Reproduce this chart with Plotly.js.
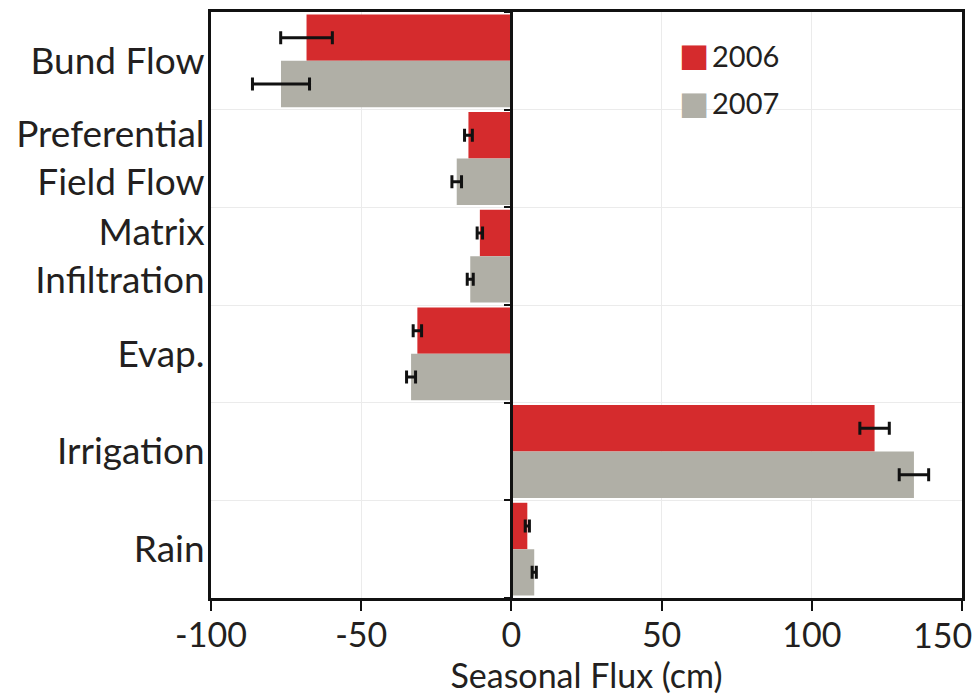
<!DOCTYPE html>
<html>
<head>
<meta charset="utf-8">
<script src="https://cdn.plot.ly/plotly-3.0.1.min.js"></script>
<style>html,body{margin:0;padding:0;background:#fff;}#chart{width:976px;height:696px;}</style>
</head>
<body>
<div id="chart"></div>
<script>
var categories = ["Bund Flow", "Preferential<br>Field Flow", "Matrix<br>Infiltration", "Evap.", "Irrigation", "Rain"];
var flux2006 = [-68.2, -14.3, -10.5, -31.3, 120.9, 5.3];
var err2006 = [8.6, 1.3, 0.9, 1.4, 4.9, 0.7];
var flux2007 = [-76.7, -18.2, -13.7, -33.4, 134.0, 7.6];
var err2007 = [9.5, 1.6, 1.0, 1.5, 4.9, 0.7];
var seriesNames = ["2006", "2007"];
var xTicks = [-100, -50, 0, 50, 100, 150];
var xTickText = ["-100", "-50", "0", "50", "100", ""];
var lastTickLabel = "150";
var boundaryTicks = [-0.5, 0.5, 1.5, 2.5, 3.5, 4.5, 5.5];

var red = "#d52b2d", gray = "#b0afa6";
var FONT = "Lato, 'Open Sans', sans-serif";

var traces = [
  {type: "bar", orientation: "h", name: seriesNames[0], y: categories, x: flux2006,
   marker: {color: red},
   error_x: {type: "data", array: err2006, visible: true, color: "#111", thickness: 3, width: 6.5}},
  {type: "bar", orientation: "h", name: seriesNames[1], y: categories, x: flux2007,
   marker: {color: gray},
   error_x: {type: "data", array: err2007, visible: true, color: "#111", thickness: 3, width: 6.5}},
  {type: "scatter", mode: "markers", x: [null], y: [null], yaxis: "y2", showlegend: false, hoverinfo: "skip"}
];

var layout = {
  width: 976, height: 696,
  margin: {l: 211, r: 14, t: 12, b: 98},
  paper_bgcolor: "#fff", plot_bgcolor: "#fff",
  font: {family: FONT, color: "#231f20", size: 34},
  barmode: "group", bargap: 0.05, bargroupgap: 0,
  showlegend: false,
  xaxis: {
    range: [-100, 150], tickvals: xTicks, ticktext: xTickText,
    showline: true, mirror: true, linecolor: "#111", linewidth: 3,
    ticks: "outside", ticklen: 10, tickwidth: 2, tickcolor: "#111",
    showgrid: true, gridcolor: "#ebebeb", gridwidth: 1,
    zeroline: false, ticklabeloverflow: "allow", ticklabelstandoff: -5,
    tickfont: {size: 34, family: FONT, color: "#231f20"},
    title: {text: "Seasonal Flux (cm)", font: {size: 34, family: FONT, color: "#231f20"}, standoff: 8},
    fixedrange: true
  },
  yaxis: {
    autorange: "reversed", type: "category",
    showline: true, mirror: true, linecolor: "#111", linewidth: 3,
    ticks: "", tickson: "boundaries",
    showgrid: true, gridcolor: "#ebebeb", gridwidth: 1,
    tickfont: {size: 37, family: FONT, color: "#231f20"},
    ticklabelstandoff: -4,
    fixedrange: true
  },
  yaxis2: {
    overlaying: "y", anchor: "free", position: 0.4, side: "left",
    range: [5.5, -0.5], tickvals: boundaryTicks,
    showticklabels: false, ticks: "outside", ticklen: 6, tickwidth: 2, tickcolor: "#111",
    showline: true, linecolor: "#111", linewidth: 3,
    showgrid: false, zeroline: false, fixedrange: true
  },
  annotations: [
    {xref: "x", yref: "paper", x: xTicks[xTicks.length - 1], y: 0, xanchor: "right", yanchor: "top",
     xshift: 12, yshift: -14, text: lastTickLabel, showarrow: false,
     font: {size: 34, family: FONT, color: "#231f20"}},
    {xref: "paper", yref: "paper", x: 0.62, y: 0.926, xanchor: "left", yanchor: "middle",
     text: "■", showarrow: false, font: {size: 32, family: "DejaVu Sans", color: red}},
    {xref: "paper", yref: "paper", x: 0.664, y: 0.926, xanchor: "left", yanchor: "middle",
     text: seriesNames[0], showarrow: false, font: {size: 29, family: FONT, color: "#231f20"}},
    {xref: "paper", yref: "paper", x: 0.62, y: 0.845, xanchor: "left", yanchor: "middle",
     text: "■", showarrow: false, font: {size: 32, family: "DejaVu Sans", color: gray}},
    {xref: "paper", yref: "paper", x: 0.664, y: 0.845, xanchor: "left", yanchor: "middle",
     text: seriesNames[1], showarrow: false, font: {size: 29, family: FONT, color: "#231f20"}}
  ]
};

Plotly.newPlot("chart", traces, layout, {displayModeBar: false, staticPlot: true});
</script>
</body>
</html>
